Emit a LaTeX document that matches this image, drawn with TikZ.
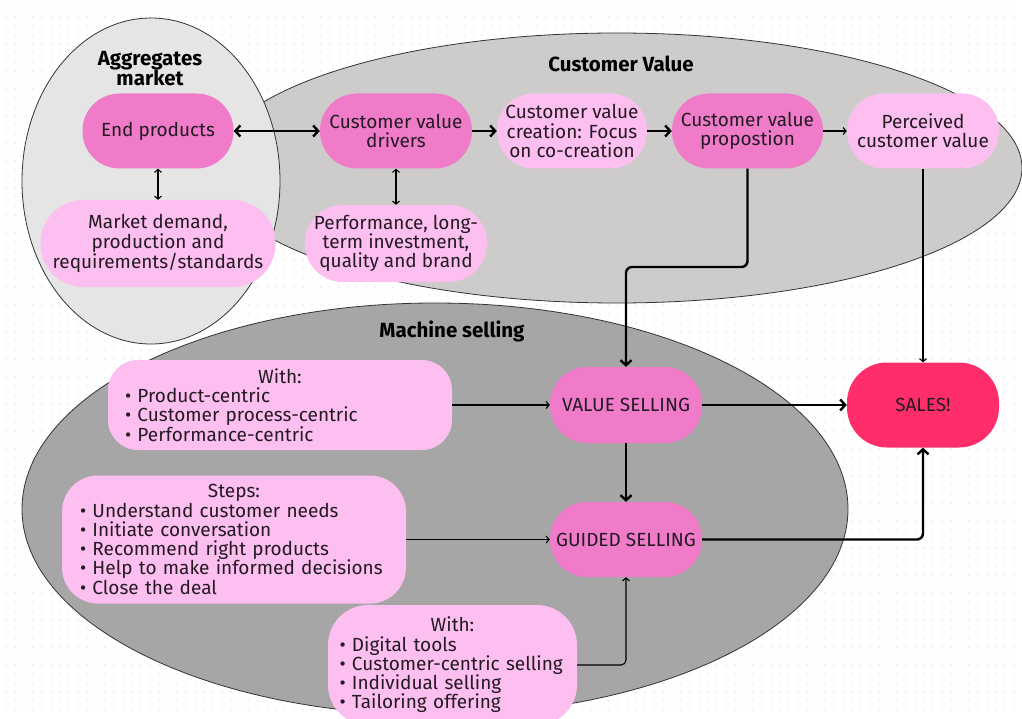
\documentclass[tikz,border=0pt]{standalone}
\usepackage{fontspec}
\setmainfont{Fira Sans}
\usetikzlibrary{arrows.meta}
\definecolor{pinkM}{HTML}{EF7BC9}
\definecolor{pinkL}{HTML}{FDBEF0}
\definecolor{salesc}{HTML}{FF2E6B}
\definecolor{aggc}{HTML}{E6E5E6}
\definecolor{cvc}{HTML}{CDCCCB}
\definecolor{msc}{HTML}{A6A6A6}
\definecolor{dotc}{HTML}{E8E8E8}
\definecolor{txt}{HTML}{231A22}
\definecolor{edgec}{HTML}{333333}
\begin{document}
\begin{tikzpicture}[x=1pt,y=-1pt,
  box/.style={rectangle, rounded corners=#1, inner sep=0pt, text=txt,
              font=\fontsize{19}{19.3}\selectfont},
  box/.default=37pt,
  mid/.style={box, fill=pinkM, align=center},
  lite/.style={box, fill=pinkL, align=center},
  hot/.style={box=40pt, fill=salesc, align=center},
  listbox/.style={box=30pt, fill=pinkL, align=left},
  title/.style={font=\fontsize{20.5}{21}\selectfont\bfseries, text=black, align=center},
  zone/.style={draw=edgec, line width=0.8pt},
  thk/.style={draw=black, line width=2.4pt, -{Straight Barb[length=5pt,width=11pt]}},
  thkboth/.style={draw=black, line width=2.4pt, {Straight Barb[length=5pt,width=11pt]}-{Straight Barb[length=5pt,width=11pt]}},
  thn/.style={draw=black, line width=1.1pt, -{Straight Barb[length=3pt,width=7pt]}},
  thnboth/.style={draw=black, line width=1.1pt, {Straight Barb[length=3pt,width=7pt]}-{Straight Barb[length=3pt,width=7pt]}}
]
\useasboundingbox (0,0) rectangle (1022,719);
\fill[white] (0,0) rectangle (1022,719);
% dotted background
\foreach \yy in {8,17,...,716}
  \draw[dotc, line width=1.6pt, line cap=round, dash pattern=on 0pt off 9pt] (6,\yy) -- (1022,\yy);

% zones
\draw[zone, fill=msc] (435,509) ellipse [x radius=413, y radius=206];
\draw[zone, fill=cvc] (617,168) ellipse [x radius=405, y radius=135];
\draw[zone, fill=aggc] (151,181) ellipse [x radius=129, y radius=163];

% titles
\node[title] (tagg) at (150,69) {Aggregates\\[-1pt]market};
\node[title] (tcv) at (621,64) {Customer Value};
\node[title] (tms) at (452,331) {Machine selling};

% nodes
\node[mid, minimum width=151pt, minimum height=75pt] (endp) at (158,131) {End products};
\node[lite, box=43pt, minimum width=235pt, minimum height=87pt] (mkt) at (158,243.5) {Market demand,\\production and\\requirements/standards};
\node[mid, minimum width=152pt, minimum height=75pt] (cvd) at (396,131) {Customer value\\drivers};
\node[lite, box=38pt, minimum width=182pt, minimum height=77pt] (perf) at (396,243.5) {Performance, long-\\term investment,\\quality and brand};
\node[lite, minimum width=150pt, minimum height=75pt] (cvcr) at (572,131) {Customer value\\creation: Focus\\on co-creation};
\node[mid, minimum width=151pt, minimum height=75pt] (cvp) at (747.5,131) {Customer value\\propostion};
\node[lite, minimum width=152pt, minimum height=75pt] (pcv) at (923,131) {Perceived\\customer value};

\node[listbox, minimum width=344pt, minimum height=90pt, text width=310pt] (with1) at (280,405)
  {\makebox[\linewidth]{With:}\\• Product-centric\\• Customer process-centric\\• Performance-centric};
\node[listbox, box=36pt, minimum width=344pt, minimum height=128pt, text width=308pt] (steps) at (234,539.5)
  {\makebox[\linewidth]{Steps:}\\• Understand customer needs\\• Initiate conversation\\• Recommend right products\\• Help to make informed decisions\\• Close the deal};
\node[listbox, box=40pt, minimum width=249pt, minimum height=120pt, text width=226pt] (with2) at (452.5,665)
  {\makebox[\linewidth]{With:}\\• Digital tools\\• Customer-centric selling\\• Individual selling\\• Tailoring offering};

\node[mid, minimum width=152pt, minimum height=76pt] (vs) at (626,405) {VALUE SELLING};
\node[mid, minimum width=152pt, minimum height=75pt] (gs) at (626,539.5) {GUIDED SELLING};
\node[hot, minimum width=152pt, minimum height=85pt] (sales) at (923,405) {SALES!};

% connectors
\coordinate (k1) at (0,267);
\draw[thkboth] (endp) -- (cvd);
\draw[thnboth] (endp) -- (mkt);
\draw[thnboth] (cvd) -- (perf);
\draw[thk] (cvd) -- (cvcr);
\draw[thk] (cvcr) -- (cvp);
\draw[thn] (cvp) -- (pcv);
\draw[thk, rounded corners=6pt] (cvp.south) -- (cvp.south |- k1) -| (vs.north);
\draw[thn] (pcv) -- (sales);
\draw[thn] (with1) -- (vs);
\draw[thk] (vs) -- (sales);
\draw[thk] (vs) -- (gs);
\draw[thn] (steps) -- (gs);
\draw[thn, rounded corners=5pt] (with2.east) -| (gs.south);
\draw[thk, rounded corners=6pt] (gs.east) -| (sales.south);
\end{tikzpicture}
\end{document}
